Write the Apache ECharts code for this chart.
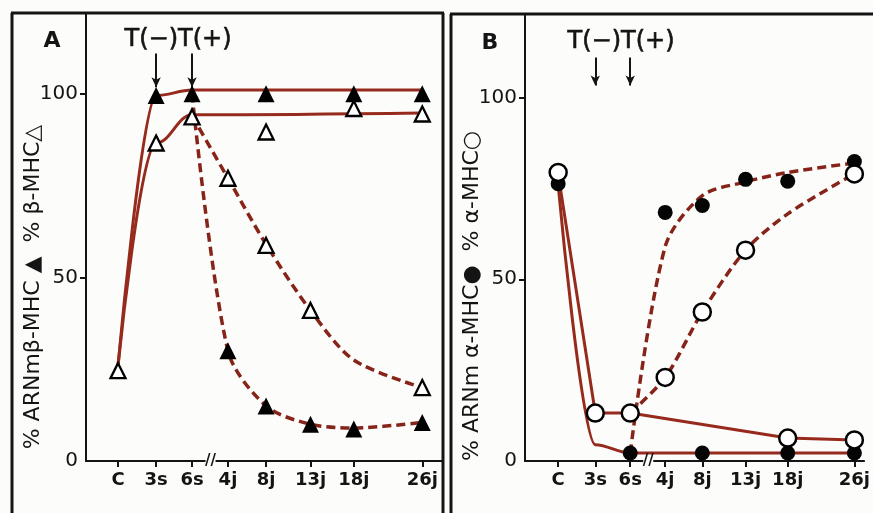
<!DOCTYPE html>
<html>
<head>
<meta charset="utf-8">
<script src="https://cdn.jsdelivr.net/npm/echarts@6/dist/echarts.min.js"></script>
<style>
html,body{margin:0;padding:0;background:#fcfcfa;}
#chart{width:873px;height:513px;}
</style>
</head>
<body>
<div id="chart"></div>
<script>
// ---- shared axis data ----
const categories = ['C', '3s', '6s', '4j', '8j', '13j', '18j', '26j'];
const xPos = [1, 2.03, 3, 3.97, 5, 6.2, 7.37, 9.22];
const yTicks = [0, 50, 100];
const breakPos = 3.5;

// ---- Panel A : beta-MHC (filled ▲ = ARNm, open △ = protein) ----
const aBetaMrnaCtrl = [null, 99.5, 100, null, 100, null, 100, 100];
const aBetaMrnaT    = [null, null, null, 30, 15, 10, 8.7, 10.5];
const aBetaProtCtrl = [24.6, 86.6, 93.7, null, 89.6, null, 96, 94.5];
const aBetaProtT    = [null, null, null, 77, 58.7, 41, null, 20];
// hand-drawn fit curves
const aFitMrnaCtrl  = [26, 99.5, 101, null, null, null, null, 101];
const aFitProtCtrl  = [26, 86.6, 94.3, null, null, null, null, 94.8];
const aFitMrnaT     = [null, null, 100, 30, 15, 10, 9, 10.5];
const aFitProtT     = [null, null, 94, 77, 59, 41, 27.5, 20];

// ---- Panel B : alpha-MHC (filled ● = ARNm, open ○ = protein) ----
const bAlphaMrnaCtrl = [76.3, null, 2.2, null, 2.2, null, 2.2, 2.2];
const bAlphaMrnaT    = [null, null, null, 68.4, 70.3, 77.5, 77, 82.4];
const bAlphaProtCtrl = [79.4, 13.2, 13.2, null, null, null, 6.3, 5.8];
const bAlphaProtT    = [null, null, null, 23, 41, 58, null, 79];
const bFitMrnaCtrl   = [76, 4.5, 2.2, null, null, null, null, 2.2];
const bFitProtCtrl   = [79, 13.2, 13.2, null, null, null, 6.3, 5.8];
const bFitMrnaT      = [null, null, 2.2, 59, 73, 76.8, 79.4, 82];
const bFitProtT      = [null, null, 13.2, 23, 41, 58, 68, 79];

// arrows T(-) at 3s, T(+) at 6s
const arrowFrom = 111;
const arrowToA = 101.8;
const arrowToB = 103.3;

function pairs(arr) {
  const out = [];
  arr.forEach((v, i) => { if (v != null) out.push([xPos[i], v]); });
  return out;
}
function labelFor(v) {
  let best = 0, d = Infinity;
  xPos.forEach((p, i) => { const dd = Math.abs(p - v); if (dd < d) { d = dd; best = i; } });
  return d < 0.05 ? categories[best] : '';
}

const FONT = 'DejaVu Sans';
const SOLID = '#962b1d';
const DASH = '#86241a';
const INK = '#141414';

function xAxisCfg(idx, min, max) {
  return {
    type: 'value', gridIndex: idx, min: min, max: max,
    axisLine: { show: true, onZero: false, lineStyle: { color: INK, width: 2 } },
    axisTick: { show: true, customValues: xPos, length: 6, lineStyle: { color: INK, width: 2 } },
    axisLabel: { show: true, customValues: xPos, formatter: labelFor, margin: 10,
      fontFamily: FONT, fontWeight: 'bold', fontSize: 18, color: INK },
    splitLine: { show: false }
  };
}
function yAxisCfg(idx, max) {
  return {
    type: 'value', gridIndex: idx, min: 0, max: max,
    axisLine: { show: true, onZero: false, lineStyle: { color: INK, width: 2 } },
    axisTick: { show: true, customValues: [50, 100], length: 6, lineStyle: { color: INK, width: 2 } },
    axisLabel: { show: true, customValues: yTicks, margin: 8,
      fontFamily: FONT, fontSize: 20, color: INK },
    splitLine: { show: false }
  };
}
function fitLine(idx, arr, dashed, smooth, mono) {
  const s = {
    type: 'line', xAxisIndex: idx, yAxisIndex: idx, data: pairs(arr),
    showSymbol: false, symbol: 'none', smooth: smooth,
    lineStyle: dashed ? { color: DASH, width: 3.5, type: [9, 5] } : { color: SOLID, width: 3 },
    z: 2, silent: true, animation: false
  };
  if (mono) s.smoothMonotone = 'x';
  return s;
}
function markers(idx, arr, kind) {
  let sym = 'triangle', size = 15, style;
  if (kind === 'triFill') { style = { color: '#000', opacity: 1 }; size = 17; }
  if (kind === 'triOpen') { style = { color: '#fff', borderColor: '#000', borderWidth: 2.3, opacity: 1 }; size = 15; }
  if (kind === 'cirFill') { sym = 'circle'; style = { color: '#050505', opacity: 1 }; size = 15; }
  if (kind === 'cirOpen') { sym = 'circle'; style = { color: '#fff', borderColor: '#000', borderWidth: 2.5, opacity: 1 }; size = 17; }
  return {
    type: 'scatter', xAxisIndex: idx, yAxisIndex: idx, data: pairs(arr),
    symbol: sym, symbolSize: size, itemStyle: style, z: 5, silent: true, animation: false
  };
}
function arrows(idx, to) {
  return {
    type: 'line', xAxisIndex: idx, yAxisIndex: idx, data: [], silent: true, animation: false,
    markLine: {
      silent: true, symbol: ['none', 'arrow'], symbolSize: [7, 10], label: { show: false },
      lineStyle: { color: INK, width: 2, type: 'solid' }, animation: false,
      data: [
        [{ coord: [xPos[1], arrowFrom] }, { coord: [xPos[1], to] }],
        [{ coord: [xPos[2], arrowFrom] }, { coord: [xPos[2], to] }]
      ]
    }
  };
}
function breakMark(idx) {
  return {
    type: 'scatter', xAxisIndex: idx, yAxisIndex: idx, data: [[breakPos, 0]],
    symbol: 'rect', symbolSize: [10, 6], itemStyle: { color: '#fcfcfa', opacity: 1 }, z: 6, silent: true, animation: false,
    label: { show: true, position: 'inside', formatter: '//', fontFamily: FONT, fontWeight: 'bold',
      fontSize: 15, color: INK }
  };
}

const chart = echarts.init(document.getElementById('chart'), null, { renderer: 'canvas' });
const option = {
  backgroundColor: '#fcfcfa',
  animation: false,
  grid: [
    { left: 86, right: 430, top: 13, bottom: 52 },
    { left: 525, right: 0, top: 14, bottom: 52 }
  ],
  xAxis: [xAxisCfg(0, 0.135, 9.78), xAxisCfg(1, 0.08, 9.49)],
  yAxis: [yAxisCfg(0, 122), yAxisCfg(1, 123)],
  series: [
    fitLine(0, aFitMrnaCtrl, false, 0.35, true),
    fitLine(0, aFitProtCtrl, false, 0.4, true),
    fitLine(0, aFitMrnaT, true, 0.3, false),
    fitLine(0, aFitProtT, true, 0.3, false),
    markers(0, aBetaMrnaCtrl, 'triFill'),
    markers(0, aBetaMrnaT, 'triFill'),
    markers(0, aBetaProtCtrl, 'triOpen'),
    markers(0, aBetaProtT, 'triOpen'),
    arrows(0, arrowToA),
    breakMark(0),
    fitLine(1, bFitMrnaCtrl, false, 0.35, true),
    fitLine(1, bFitProtCtrl, false, false, false),
    fitLine(1, bFitMrnaT, true, 0.3, false),
    fitLine(1, bFitProtT, true, 0.3, false),
    markers(1, bAlphaMrnaCtrl, 'cirFill'),
    markers(1, bAlphaMrnaT, 'cirFill'),
    markers(1, bAlphaProtCtrl, 'cirOpen'),
    markers(1, bAlphaProtT, 'cirOpen'),
    arrows(1, arrowToB),
    breakMark(1)
  ],
  graphic: [
    // frames
    { type: 'line', shape: { x1: 12, y1: 13, x2: 12, y2: 513 }, style: { stroke: INK, lineWidth: 3 }, silent: true },
    { type: 'line', shape: { x1: 11, y1: 13, x2: 444, y2: 13 }, style: { stroke: INK, lineWidth: 3 }, silent: true },
    { type: 'line', shape: { x1: 443, y1: 13, x2: 443, y2: 513 }, style: { stroke: INK, lineWidth: 3 }, silent: true },
    { type: 'line', shape: { x1: 451, y1: 14, x2: 451, y2: 513 }, style: { stroke: INK, lineWidth: 3 }, silent: true },
    { type: 'line', shape: { x1: 450, y1: 14, x2: 873, y2: 14 }, style: { stroke: INK, lineWidth: 3 }, silent: true },
    // panel letters
    { type: 'text', x: 52, y: 41, style: { text: 'A', fontFamily: FONT, fontWeight: 'bold', fontSize: 22, fill: INK, align: 'center', verticalAlign: 'middle' } },
    { type: 'text', x: 490, y: 43, style: { text: 'B', fontFamily: FONT, fontWeight: 'bold', fontSize: 22, fill: INK, align: 'center', verticalAlign: 'middle' } },
    // T(-) T(+)
    { type: 'text', x: 178, y: 40, style: { text: 'T(−)T(+)', fontFamily: FONT, fontSize: 24, fill: INK, stroke: INK, lineWidth: 0.6, align: 'center', verticalAlign: 'middle' } },
    { type: 'text', x: 621, y: 42, style: { text: 'T(−)T(+)', fontFamily: FONT, fontSize: 24, fill: INK, stroke: INK, lineWidth: 0.6, align: 'center', verticalAlign: 'middle' } },
    // y-axis titles
    { type: 'text', x: 33, y: 287, rotation: Math.PI / 2, style: { text: '% ARNmβ-MHC ▲  % β-MHC△', fontFamily: FONT, fontSize: 22, fill: INK, align: 'center', verticalAlign: 'middle' } },
    { type: 'text', x: 472, y: 296, rotation: Math.PI / 2, style: { text: '% ARNm α-MHC●  % α-MHC○', fontFamily: FONT, fontSize: 22, fill: INK, align: 'center', verticalAlign: 'middle' } }
  ]
};
chart.setOption(option);
</script>
</body>
</html>
